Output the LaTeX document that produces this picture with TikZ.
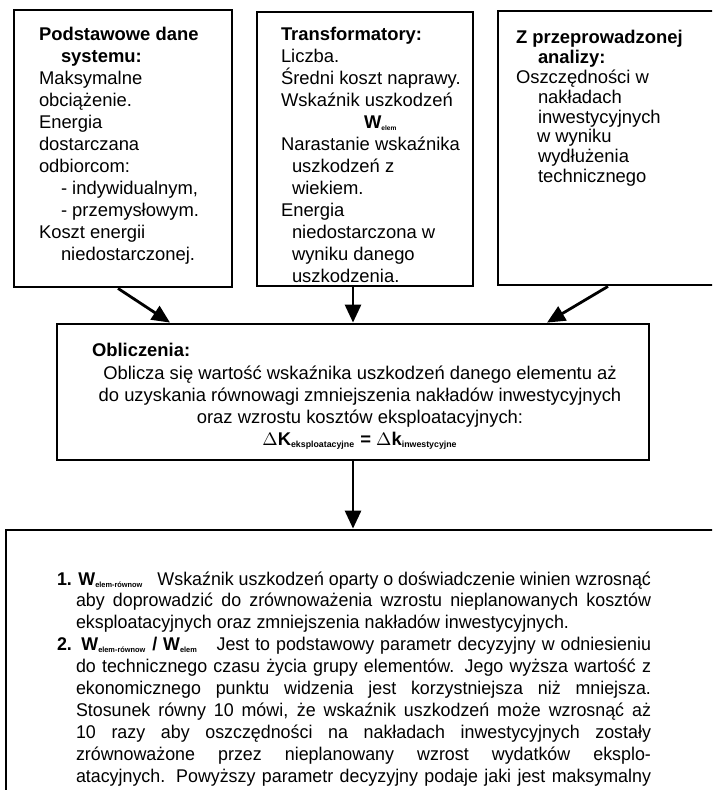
\documentclass[tikz,border=0pt]{standalone}
\usepackage{fontspec}
\setmainfont{Liberation Sans}
\usetikzlibrary{arrows.meta}
\setlength{\parindent}{0pt}
\newcommand\hind{\hspace*{11pt}}
\newcommand\sind{\hspace*{5.5pt}}
\newcommand\topstrut{\rule{0pt}{9pt}}
\newcommand\bsub[3][3.8]{\textbf{#2}\textsubscript{\fontsize{#1}{#1}\selectfont\bfseries #3}}

\begin{document}
\begin{tikzpicture}[x=0.5pt,y=-0.5pt,
  box/.style={draw,line width=1.4pt,inner sep=0pt},
  txt/.style={inner sep=0pt,anchor=north west,align=left,font=\fontsize{9.2}{11}\selectfont},
  item/.style={txt,text width=297pt,align=justify,
    font=\fontsize{9.2}{10.95}\selectfont\addfontfeatures{FakeStretch=0.97}},
  arr/.style={line width=1.4pt,-{Triangle[width=8pt,length=9pt]}}]

\clip (0,0) rectangle (712,790);

% input data
\node[box,minimum width=109pt,minimum height=138.5pt] (sys) at (123,148.5) {};
\node[box,minimum width=108pt,minimum height=137pt] (trafo) at (365,149) {};
\node[box,minimum width=112pt,minimum height=137pt] (anal) at (610,148) {};

\node[txt] (systxt) at ([shift={(26,14)}]sys.north west) {\topstrut\textbf{Podstawowe dane}\\
  \hind\textbf{systemu:}\\
  Maksymalne\\
  obciążenie.\\
  Energia\\
  dostarczana\\
  odbiorcom:\\
  \hind - indywidualnym,\\
  \hind - przemysłowym.\\
  Koszt energii\\
  \hind niedostarczonej.};

\node[txt] (trafotxt) at ([shift={(25,12)}]trafo.north west) {\topstrut\textbf{Transformatory:}\\
  Liczba.\\
  Średni koszt naprawy.\\
  Wskaźnik uszkodzeń\\
  \hspace*{41.5pt}\bsub[3.3]{W}{elem}\\
  Narastanie wskaźnika\\
  \sind uszkodzeń z\\
  \sind wiekiem.\\
  Energia\\
  \sind niedostarczona w\\
  \sind wyniku danego\\
  \sind uszkodzenia.};

\node[txt,font=\fontsize{9.2}{9.9}\selectfont] (analtxt) at ([shift={(19,16)}]anal.north west) {\topstrut\textbf{Z przeprowadzonej}\\
  \hind\textbf{analizy:}\\
  Oszczędności w\\
  \hind nakładach\\
  \hind inwestycyjnych\\
  \hspace*{10.5pt}w wyniku\\
  \hind wydłużenia\\
  \hind technicznego};

% calculation
\node[box,minimum width=296pt,minimum height=68pt] (calc) at (353,392) {};
\node[txt] (calctitle) at ([shift={(36,16)}]calc.north west) {\topstrut\textbf{Obliczenia:}};
\node[txt,align=center,anchor=north] (calctxt) at ([shift={(7,38)}]calc.north) {\topstrut Oblicza się wartość wskaźnika uszkodzeń danego elementu aż\\
  do uzyskania równowagi zmniejszenia nakładów inwestycyjnych\\
  oraz wzrostu kosztów eksploatacyjnych:\\
  $\Delta$\bsub[4.4]{K}{eksploatacyjne} \textbf{=} $\Delta$\bsub[4.4]{k}{inwestycyjne}};

% result
\node[box,minimum width=358pt,minimum height=145pt] (res) at (364,675) {};
\node[item] (item1) at ([shift={(52,38)}]res.north west) {%
  \tolerance=9999\hyphenpenalty=10000\leftskip=9.5pt
  \noindent\hspace*{-9.5pt}\topstrut\textbf{1. \bsub{W}{elem-równow}}\hspace{0.5em} Wskaźnik uszkodzeń oparty o doświadczenie winien wzrosnąć\linebreak
  aby doprowadzić do zrównoważenia wzrostu nieplanowanych kosztów\linebreak
  eksploatacyjnych oraz zmniejszenia nakładów inwestycyjnych.\par};
\node[item] (item2) at ([shift={(52,103.7)}]res.north west) {%
  \tolerance=9999\hyphenpenalty=10000\leftskip=9.5pt
  \noindent\hspace*{-9.5pt}\topstrut\textbf{2. \bsub{W}{elem-równow} / \bsub{W}{elem}}\hspace{0.7em} Jest to podstawowy parametr decyzyjny w odniesieniu\linebreak
  do technicznego czasu życia grupy elementów. Jego wyższa wartość z\linebreak
  ekonomicznego punktu widzenia jest korzystniejsza niż mniejsza.\linebreak
  Stosunek równy 10 mówi, że wskaźnik uszkodzeń może wzrosnąć aż\linebreak
  10 razy aby oszczędności na nakładach inwestycyjnych zostały\linebreak
  zrównoważone przez nieplanowany wzrost wydatków eksplo-\linebreak
  atacyjnych. Powyższy parametr decyzyjny podaje jaki jest maksymalny\linebreak\par};

\draw[arr] ([xshift=-2.5pt]sys.south) -- ([xshift=-91.5pt]calc.north);
\draw[arr] ([xshift=-6pt]trafo.south) -- ([xshift=0pt]calc.north);
\draw[arr] ([xshift=-1pt]anal.south) -- ([xshift=97pt]calc.north);
\draw[arr] (calc.south) -- ([xshift=-5.5pt]res.north);

\end{tikzpicture}
\end{document}
